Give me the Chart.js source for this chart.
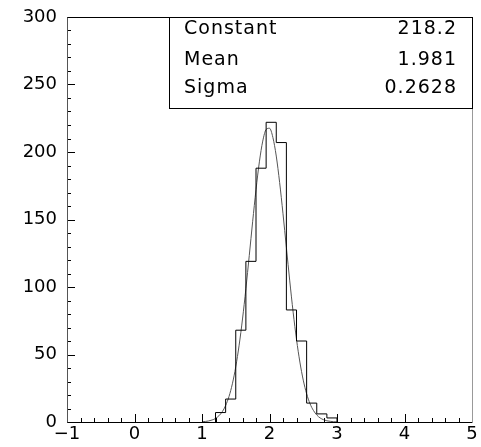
<!DOCTYPE html>
<html>
<head>
<meta charset="utf-8">
<script src="https://cdn.jsdelivr.net/npm/chart.js@4.4.1/dist/chart.umd.min.js"></script>
<style>
  html, body { margin: 0; padding: 0; background: #fff; }
  #wrap { width: 481px; height: 447px; }
</style>
</head>
<body>
<div id="wrap"><canvas id="histo"></canvas></div>
<script>
// histogram bins (low edges + last upper edge) and contents
const binEdges = [1.2, 1.35, 1.5, 1.65, 1.8, 1.95, 2.1, 2.25, 2.4, 2.55, 2.7, 2.85, 3.0];
const binCounts = [7, 17, 68, 119, 188, 222, 207, 83, 60, 14, 6, 3];

// gaussian fit curve
const fitX = [1.0, 1.05, 1.1, 1.15, 1.2, 1.25, 1.3, 1.35, 1.4, 1.45, 1.5, 1.55, 1.6, 1.65, 1.7, 1.75,
  1.8, 1.85, 1.9, 1.95, 2.0, 2.05, 2.1, 2.15, 2.2, 2.25, 2.3, 2.35, 2.4, 2.45, 2.5, 2.55,
  2.6, 2.65, 2.7, 2.75, 2.8, 2.85, 2.9, 2.95, 3.0];
const fitY = [0.2, 0.4, 0.8, 1.5, 2.6, 4.6, 7.6, 12.2, 18.9, 28.3, 40.9, 56.9, 76.3, 98.7, 123.2, 148.3,
  172.1, 192.7, 208.1, 216.7, 217.6, 210.8, 197.0, 177.4, 154.2, 129.2, 104.5, 81.4, 61.2, 44.4, 31.0, 20.9,
  13.6, 8.6, 5.2, 3.0, 1.7, 0.9, 0.5, 0.2, 0.1];

// fit results shown in the stats box
const statNames = ["Constant", "Mean", "Sigma"];
const statValues = ["218.2", "1.981", "0.2628"];

const xTicks = [-1, 0, 1, 2, 3, 4, 5];
const yTicks = [0, 50, 100, 150, 200, 250, 300];

const FONT = "DejaVu Sans";

const histPoints = [{ x: binEdges[0], y: 0 }];
binCounts.forEach((c, i) => histPoints.push({ x: binEdges[i], y: c }));
histPoints.push({ x: binEdges[binEdges.length - 1], y: 0 });

const fitPoints = fitX.map((x, i) => ({ x: x, y: fitY[i] }));

// inward ticks, frame and stats box
const rootStyle = {
  id: "rootStyle",
  afterDraw(chart) {
    const ctx = chart.ctx;
    const a = chart.chartArea;
    const xs = chart.scales.x, ys = chart.scales.y;
    ctx.save();
    ctx.lineWidth = 1;
    ctx.strokeStyle = "#000";

    // x ticks (minor every 0.2)
    ctx.beginPath();
    for (let k = 0; k <= 30; k++) {
      const v = -1 + k * 0.2;
      const px = Math.round(xs.getPixelForValue(v)) + 0.5;
      const len = (k % 5 === 0) ? 8 : 4;
      ctx.moveTo(px, a.bottom);
      ctx.lineTo(px, a.bottom - len);
    }
    // y ticks (minor every 10)
    for (let k = 0; k <= 30; k++) {
      const py = Math.round(ys.getPixelForValue(k * 10)) + 0.5;
      const len = (k % 5 === 0) ? 8 : 4;
      ctx.moveTo(a.left, py);
      ctx.lineTo(a.left + len, py);
    }
    ctx.stroke();

    // frame
    const L = Math.round(a.left) + 0.5, R = Math.round(a.right) + 0.5;
    const T = Math.round(a.top) + 0.5, B = Math.round(a.bottom) + 0.5;
    ctx.strokeStyle = "#000";
    ctx.beginPath();
    ctx.moveTo(L, T); ctx.lineTo(R, T);
    ctx.moveTo(L, B); ctx.lineTo(R, B);
    ctx.stroke();
    ctx.strokeStyle = "#555";
    ctx.beginPath();
    ctx.moveTo(L, T); ctx.lineTo(L, B);
    ctx.stroke();
    ctx.strokeStyle = "#999";
    ctx.beginPath();
    ctx.moveTo(R, T); ctx.lineTo(R, B);
    ctx.stroke();

    // stats box
    const bx = 169.5, by = T, bw = R - 169.5, bh = 91;
    ctx.fillStyle = "#fff";
    ctx.fillRect(bx, by, bw, bh);
    ctx.strokeStyle = "#000";
    ctx.strokeRect(bx, by, bw, bh);
    ctx.fillStyle = "#000";
    ctx.font = "19px '" + FONT + "'";
    ctx.textBaseline = "alphabetic";
    const baselines = [16, 47, 75];
    statNames.forEach((n, i) => {
      ctx.letterSpacing = "1px";
      ctx.textAlign = "left";
      ctx.fillText(n, 184, by + baselines[i]);
      ctx.textAlign = "right";
      ctx.fillText(statValues[i], 457, by + baselines[i]);
    });
    ctx.restore();
  }
};

new Chart(document.getElementById("histo"), {
  type: "line",
  data: {
    datasets: [
      {
        label: "histogram",
        data: histPoints,
        stepped: "before",
        borderColor: "#000",
        borderWidth: 1,
        pointRadius: 0,
        fill: false,
      },
      {
        label: "fit",
        data: fitPoints,
        borderColor: "#555",
        borderWidth: 1,
        pointRadius: 0,
        cubicInterpolationMode: "monotone",
        fill: false,
      },
    ],
  },
  options: {
    responsive: true,
    maintainAspectRatio: false,
    animation: false,
    layout: { padding: { top: 17, right: 9, left: 0, bottom: 0 } },
    plugins: { legend: { display: false }, tooltip: { enabled: false } },
    scales: {
      x: {
        type: "linear",
        min: -1,
        max: 5,
        afterBuildTicks: (s) => { s.ticks = xTicks.map(v => ({ value: v })); },
        afterFit: (s) => { s.height = 25; s.paddingLeft = 0; s.paddingRight = 0; },
        grid: { display: false, drawTicks: false },
        border: { display: false },
        ticks: {
          padding: 2,
          color: "#000",
          font: { family: FONT, size: 18 },
          maxRotation: 0,
          autoSkip: false,
          callback: (v) => String(v).replace("-", "\u2212"),
        },
      },
      y: {
        type: "linear",
        min: 0,
        max: 300,
        afterBuildTicks: (s) => { s.ticks = yTicks.map(v => ({ value: v })); },
        afterFit: (s) => { s.width = 67; s.paddingTop = 0; s.paddingBottom = 0; },
        grid: { display: false, drawTicks: false },
        border: { display: false },
        ticks: {
          padding: 10,
          color: "#000",
          font: { family: FONT, size: 18 },
          autoSkip: false,
        },
      },
    },
  },
  plugins: [rootStyle],
});
</script>
</body>
</html>
